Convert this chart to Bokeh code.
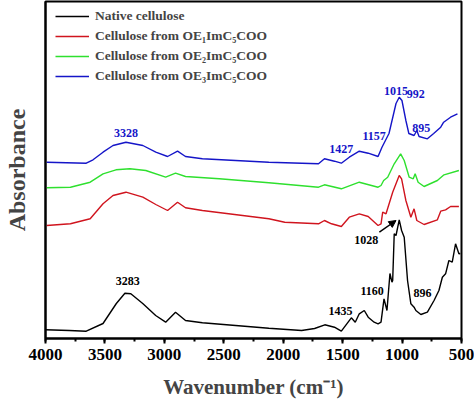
from bokeh.plotting import figure
from bokeh.models import (Range1d, SingleIntervalTicker, FixedTicker, Legend, LegendItem,
                          Label, Arrow, NormalHead)
from bokeh.embed import file_html
from bokeh.resources import INLINE

# ---------------- data (wavenumber in cm-1, absorbance in arbitrary units, offset traces) -------------
wn_native = [4000, 3800, 3657, 3516, 3404, 3332, 3282, 3182, 3073, 2989, 2906, 2822, 2680, 2121,
             1845, 1736, 1650, 1569, 1511, 1427, 1394, 1360, 1318, 1285, 1235, 1202, 1177, 1152,
             1127, 1102, 1085, 1079, 1066, 1051, 1024, 1004, 982, 954, 926, 899, 884, 842, 787,
             731, 690, 661, 634, 606, 578, 550, 522, 510]
abs_native = [0.087, 0.08, 0.073, 0.15, 0.35, 0.453, 0.447, 0.35, 0.23, 0.163, 0.263, 0.18, 0.157,
              0.103, 0.08, 0.10, 0.137, 0.113, 0.073, 0.207, 0.163, 0.247, 0.28, 0.213, 0.163,
              0.147, 0.163, 0.397, 0.28, 0.65, 0.563, 0.58, 1.047, 1.03, 1.187, 1.08, 1.013, 0.58,
              0.347, 0.313, 0.28, 0.24, 0.263, 0.38, 0.48, 0.613, 0.647, 0.78, 0.763, 0.947, 0.847,
              0.85]

wn_oe1 = [3990, 3790, 3624, 3516, 3432, 3323, 3181, 3072, 2973, 2889, 2822, 2680, 2121, 1987,
          1703, 1653, 1594, 1511, 1444, 1360, 1285, 1202, 1177, 1163, 1135, 1079, 1024, 1004, 968,
          926, 899, 876, 815, 703, 675, 634, 592, 522]
abs_oe1 = [1.13, 1.147, 1.197, 1.347, 1.43, 1.463, 1.413, 1.34, 1.28, 1.363, 1.307, 1.28, 1.197,
           1.163, 1.147, 1.18, 1.147, 1.12, 1.213, 1.247, 1.22, 1.13, 1.147, 1.263, 1.247, 1.463,
           1.63, 1.597, 1.38, 1.213, 1.297, 1.18, 1.14, 1.187, 1.273, 1.287, 1.32, 1.32]

wn_oe2 = [3990, 3790, 3624, 3516, 3407, 3290, 3156, 2989, 2906, 2822, 2538, 2121, 1703, 1653,
          1511, 1360, 1202, 1177, 1155, 1121, 1066, 1012, 982, 940, 906, 890, 865, 815, 703, 647,
          522]
abs_oe2 = [1.507, 1.513, 1.563, 1.647, 1.687, 1.697, 1.68, 1.613, 1.653, 1.62, 1.597, 1.557, 1.513,
           1.537, 1.497, 1.563, 1.513, 1.53, 1.58, 1.613, 1.747, 1.847, 1.78, 1.613, 1.597, 1.647,
           1.563, 1.52, 1.58, 1.637, 1.68]

wn_oe3 = [3990, 3657, 3600, 3516, 3432, 3323, 3181, 3072, 2973, 2889, 2822, 2680, 2121, 1703,
          1653, 1569, 1511, 1444, 1360, 1285, 1202, 1169, 1110, 1051, 1024, 1001, 968, 943, 899,
          876, 857, 787, 734, 675, 650, 592, 534]
abs_oe3 = [1.763, 1.753, 1.787, 1.863, 1.93, 1.963, 1.93, 1.863, 1.82, 1.873, 1.82, 1.797, 1.763,
           1.747, 1.797, 1.773, 1.753, 1.813, 1.873, 1.853, 1.82, 1.913, 2.05, 2.35, 2.413, 2.38,
           2.18, 2.05, 2.03, 2.08, 2.02, 1.997, 2.05, 2.113, 2.163, 2.213, 2.247]

series_names = ["Native cellulose",
                "Cellulose from OE\u2081ImC\u2085COO",
                "Cellulose from OE\u2082ImC\u2085COO",
                "Cellulose from OE\u2083ImC\u2085COO"]
series_colors = ["#000000", "#d0141e", "#2ee02e", "#1515c8"]

# peak annotations: (text, wavenumber, absorbance, colour)
peak_labels = [("3328", 3323, 2.053, "#1515c8"), ("1427", 1511, 1.897, "#1515c8"),
               ("1157", 1235, 2.03, "#1515c8"), ("1015", 1051, 2.48, "#1515c8"),
               ("992", 884, 2.45, "#1515c8"), ("895", 838, 2.11, "#1515c8"),
               ("1028", 1302, 0.987, "#000000"), ("3283", 3307, 0.573, "#000000"),
               ("1160", 1252, 0.473, "#000000"), ("1435", 1519, 0.273, "#000000"),
               ("896", 828, 0.453, "#000000")]
arrow_from = (1191, 1.063)
arrow_to = (1051, 1.18)

FONT = "Liberation Serif"

p = figure(frame_width=416, frame_height=337, output_backend="svg", toolbar_location=None,
           x_range=Range1d(4000, 500), y_range=Range1d(0, 3.37),
           min_border_left=43, min_border_right=15, min_border_top=1, min_border_bottom=64)
p.grid.visible = False
p.outline_line_color = "black"
p.outline_line_width = 2

# x axis
p.xaxis.ticker = SingleIntervalTicker(interval=500, num_minor_ticks=2)
p.xaxis.axis_line_width = 2
p.xaxis.major_tick_line_width = 2
p.xaxis.minor_tick_line_width = 2
p.xaxis.major_tick_out = 5
p.xaxis.major_tick_in = 0
p.xaxis.minor_tick_out = 3
p.xaxis.minor_tick_in = 0
p.xaxis.major_label_text_font = FONT
p.xaxis.major_label_text_font_style = "bold"
p.xaxis.major_label_text_font_size = "17px"
p.xaxis.major_label_text_color = "black"
p.xaxis.major_label_standoff = 5
p.xaxis.axis_label = "Wavenumber (cm\u207b\u00b9)"
p.xaxis.axis_label_text_font = FONT
p.xaxis.axis_label_text_font_style = "bold"
p.xaxis.axis_label_text_font_size = "21px"
p.xaxis.axis_label_standoff = 12

# y axis
p.yaxis.ticker = FixedTicker(ticks=[])
p.yaxis.axis_line_width = 2
p.yaxis.axis_label = "Absorbance"
p.yaxis.axis_label_text_font = FONT
p.yaxis.axis_label_text_font_style = "bold"
p.yaxis.axis_label_text_font_size = "24px"
p.yaxis.axis_label_standoff = 16

xs = [wn_native, wn_oe1, wn_oe2, wn_oe3]
ys = [abs_native, abs_oe1, abs_oe2, abs_oe3]
renderers = []
for x, y, c in zip(xs, ys, series_colors):
    renderers.append(p.line(x, y, line_color=c, line_width=1.4))

items = [LegendItem(label=n, renderers=[r]) for n, r in zip(series_names, renderers)]
legend = Legend(items=items, location=(10, 252), glyph_width=34, glyph_height=20,
                label_height=20, spacing=0, label_standoff=6, padding=0, margin=0,
                border_line_color=None, background_fill_alpha=0,
                label_text_font=FONT, label_text_font_style="bold",
                label_text_font_size="13.5px")
p.add_layout(legend)

for t, x, y, c in peak_labels:
    p.add_layout(Label(x=x, y=y, text=t, text_align="center", text_baseline="middle",
                       text_font=FONT, text_font_style="bold", text_font_size="12px",
                       text_color=c))

p.add_layout(Arrow(end=NormalHead(size=7, fill_color="black", line_color="black"),
                   x_start=arrow_from[0], y_start=arrow_from[1],
                   x_end=arrow_to[0], y_end=arrow_to[1], line_width=1.5, line_color="black"))

open("out.html", "w").write(file_html(p, INLINE))
